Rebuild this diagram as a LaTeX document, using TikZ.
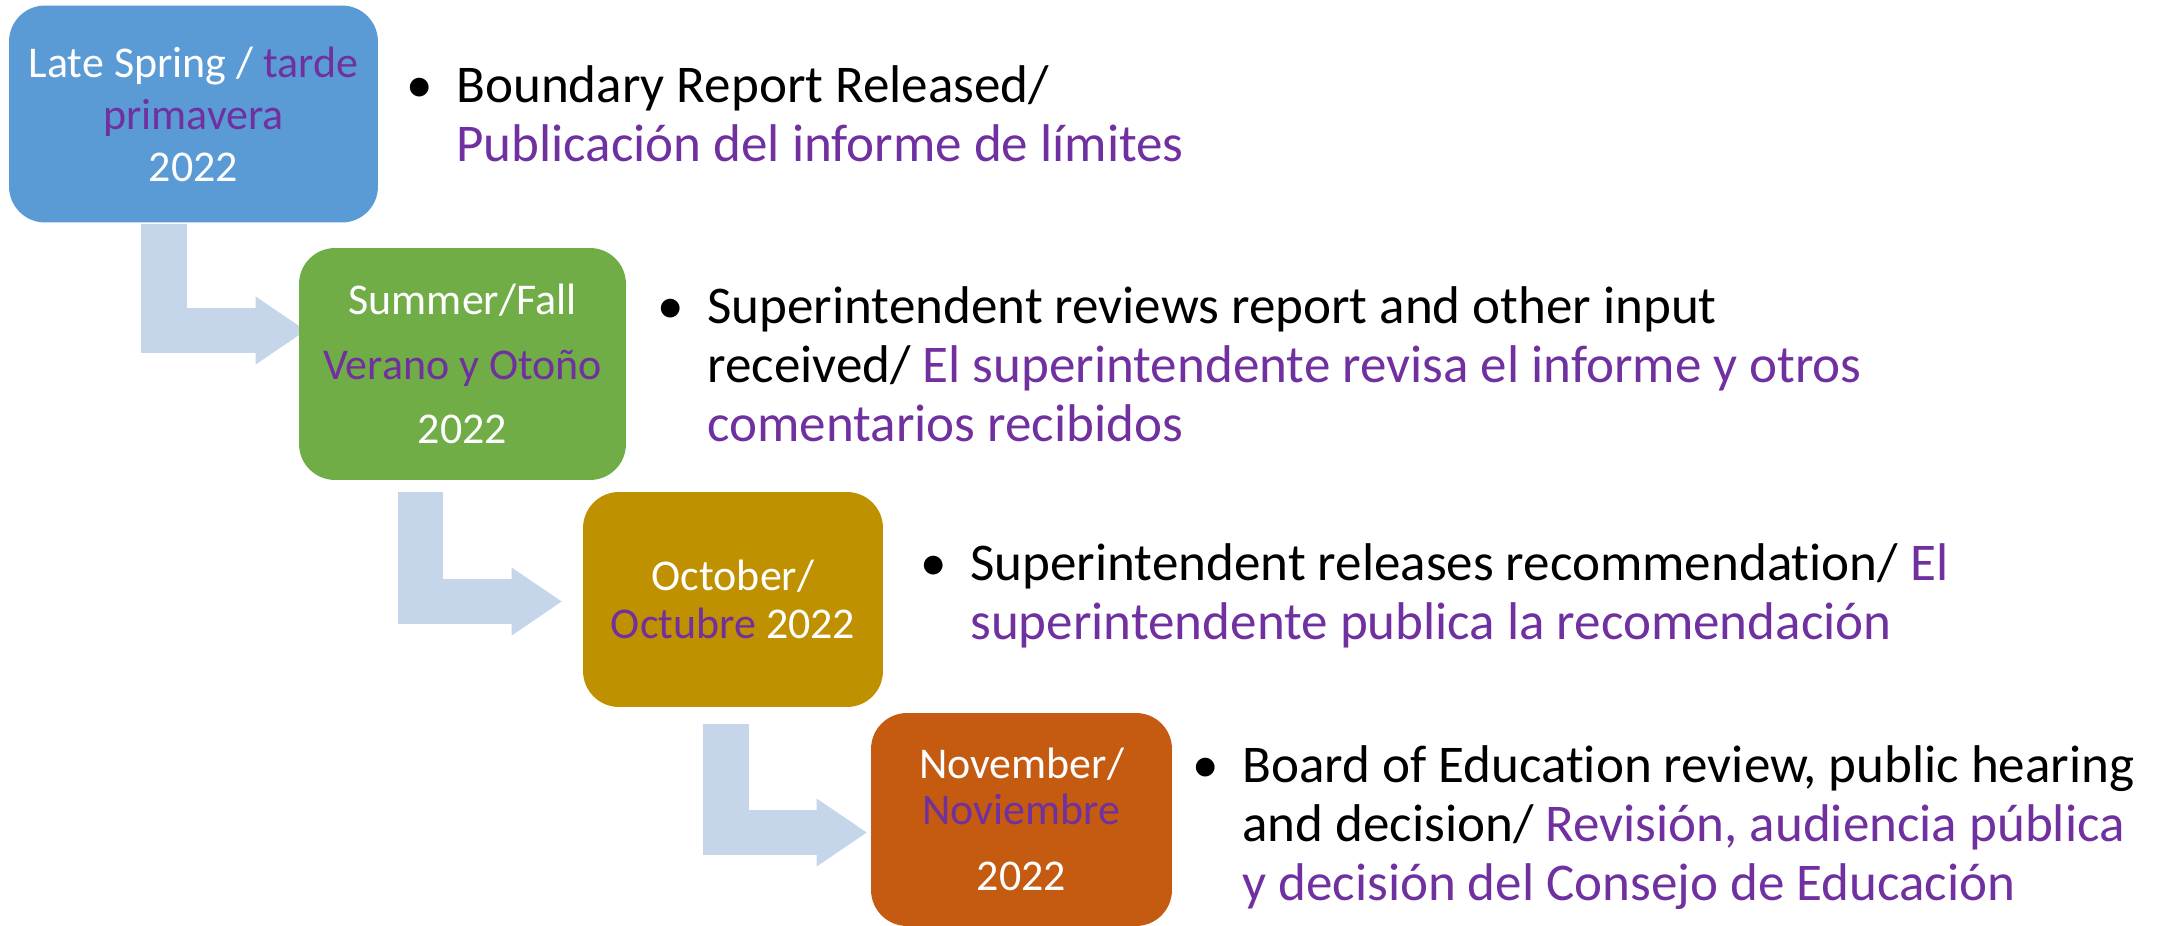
\documentclass[tikz,border=0pt]{standalone}
\usepackage{fontspec}
\setmainfont{Carlito}[Ligatures=CommonOff]
\usetikzlibrary{arrows.meta, calc, backgrounds}
\definecolor{purp}{HTML}{7030A0}
\definecolor{springblue}{HTML}{5B9BD5}
\definecolor{summergreen}{HTML}{70AD47}
\definecolor{octgold}{HTML}{BF9000}
\definecolor{novorange}{HTML}{C55A11}
\definecolor{arrowblue}{HTML}{C5D5EA}

\begin{document}
\begin{tikzpicture}[x=0.02cm, y=-0.02cm, every node/.style={inner sep=0pt},
  period/.style={rounded corners=0.72cm, text=white, align=center},
  item/.style={anchor=north west, align=left, font=\fontsize{30.2}{33.6}\selectfont},
  bent/.style={arrowblue, line width=0.91cm, -{Triangle[width=1.36cm, length=1cm, line width=0pt]}}]
\useasboundingbox (0,0) rectangle (2160,926);

\node (spring)[period, fill=springblue, minimum width=7.38cm, minimum height=4.34cm, font=\fontsize{25}{29.6}\selectfont] at (193.5,114) {Late Spring / \textcolor{purp}{tarde}\\ \textcolor{purp}{primavera}\\ 2022};
\node (summer)[period, fill=summergreen, minimum width=6.54cm, minimum height=4.64cm, font=\fontsize{25}{36.5}\selectfont] at (462.5,364) {Summer/Fall\\ \textcolor{purp}{Verano y Otoño}\\ 2022};
\node (october)[period, fill=octgold, minimum width=6cm, minimum height=4.3cm, font=\fontsize{25}{27.3}\selectfont] at (733,599.5) {October/\\ \textcolor{purp}{Octubre} 2022};
\node (november)[period, fill=novorange, minimum width=6.02cm, minimum height=4.26cm, font=\fontsize{25}{26.2}\selectfont] at (1021.5,819.5) {November/\\ \textcolor{purp}{Noviembre}\\[11.3pt] 2022};

\node (release)[item] at (456,65) {\llap{\makebox[1cm][l]{•}}Boundary Report Released/\\ \textcolor{purp}{Publicación del informe de límites}};
\node (review)[item] at (707,286) {\llap{\makebox[1cm][l]{•}}Superintendent reviews report and other input\\ received/ \textcolor{purp}{El superintendente revisa el informe y otros}\\ \textcolor{purp}{comentarios recibidos}};
\node (recommend)[item] at (970,543) {\llap{\makebox[1cm][l]{•}}Superintendent releases recommendation/ \textcolor{purp}{El}\\ \textcolor{purp}{superintendente publica la recomendación}};
\node (decision)[item] at (1242,745) {\llap{\makebox[1cm][l]{•}}Board of Education review, public hearing\\ and decision/ \textcolor{purp}{Revisión, audiencia pública}\\ \textcolor{purp}{y decisión del Consejo de Educación}};

\begin{scope}[on background layer]
\draw[bent] ($(spring.south)+(-29.5,1)$) |- ($(summer.west)+(7,-33.5)$);
\draw[bent] ($(summer.south)+(-42,12)$) |- ($(october.west)+(-21,2)$);
\draw[bent] ($(october.south)+(-7,17)$) |- ($(november.west)+(-4,13)$);
\end{scope}
\end{tikzpicture}
\end{document}
